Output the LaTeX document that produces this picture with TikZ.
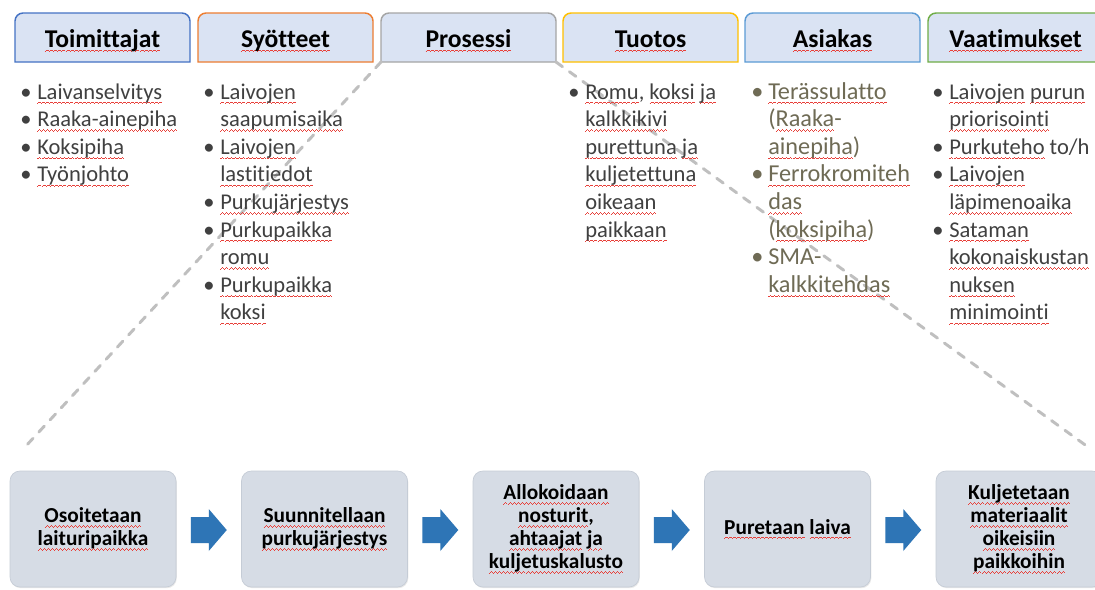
\documentclass[tikz,border=0pt]{standalone}
\usepackage{fontspec}
\setmainfont{Carlito}[Ligatures={NoCommon}]
\usetikzlibrary{calc,shadows}

% palette
\definecolor{hdrfill}{HTML}{DAE3F3}
\definecolor{boxfill}{HTML}{D6DCE5}
\definecolor{boxedge}{HTML}{C5CCD6}
\definecolor{txtgray}{HTML}{404040}
\definecolor{custtext}{HTML}{6F6B55}
\definecolor{dashgray}{HTML}{BFBFBF}
\definecolor{arrowblue}{HTML}{2E75B6}
\definecolor{spellred}{HTML}{E8403A}
\definecolor{cBlue}{HTML}{4472C4}
\definecolor{cOrange}{HTML}{ED7D31}
\definecolor{cGray}{HTML}{A5A5A5}
\definecolor{cGold}{HTML}{FFC000}
\definecolor{cLBlue}{HTML}{5B9BD5}
\definecolor{cGreen}{HTML}{70AD47}

% red wavy underline of the spell checker, built from tiny rules
\newcommand\wv{\hbox{\rule[-3.7pt]{0.75pt}{0.6pt}\rule[-3.2pt]{0.75pt}{0.6pt}%
  \rule[-2.7pt]{0.75pt}{0.6pt}\rule[-3.2pt]{0.75pt}{0.6pt}}}
\newcommand\sq[1]{\setbox0\hbox{#1}%
  \rlap{\hbox to\wd0{\color{spellred}\xleaders\wv\hfill}}\box0\relax}

% bullet list helpers
\newcommand\bl{\makebox[12.75pt][l]{•}}
\newcommand\ind{\hspace*{12.75pt}}
\newcommand\stack[1]{\vtop{\baselineskip=20.7pt\lineskiplimit=-30pt\lineskip=0pt #1}}

% header tab with rounded top corners: name, frame colour, left x, label
\newcommand\hdr[4]{%
  \draw[hdrframe, draw=#2] (#3,-62) -- (#3,-21)
    arc[start angle=180,end angle=90,radius=8] -- ({#3+167},-13)
    arc[start angle=90,end angle=0,radius=8] -- ({#3+175},-62) -- cycle;
  \coordinate (#1-sw) at (#3,-62);
  \coordinate (#1-se) at ({#3+175},-62);
  \node[hdrtext] (#1) at ({#3+87.5},-47) {\sq{#4}};
}

% block arrow centred on a coordinate
\newcommand\blockarrow[1]{%
  \fill[arrowblue, shift={(#1)}] (-18,13) -- (0,13) -- (0,21) -- (18,0)
    -- (0,-21) -- (0,-13) -- (-18,-13) -- cycle;
}

\begin{document}
\begin{tikzpicture}[x=0.75pt,y=0.75pt,
  hdrframe/.style={fill=hdrfill, line width=1.1pt},
  hdrtext/.style={anchor=base, inner sep=0pt, text=black,
    font=\bfseries\fontsize{19.2}{22}\selectfont},
  lst/.style={anchor=base west, inner sep=0pt, text=txtgray,
    font=\fontsize{16.9}{20.7}\selectfont},
  zoomline/.style={draw=dashgray, line width=2.2pt, line cap=round,
    dash pattern=on 6pt off 6.4pt},
  stepbox/.style={rounded corners=7.5pt, fill=boxfill, draw=boxedge,
    line width=0.5pt, minimum width=124.5pt, minimum height=87pt,
    inner sep=2pt, align=center, text=black,
    font=\bfseries\fontsize{16}{17.25}\selectfont,
    drop shadow={opacity=0.18, shadow xshift=0.6pt, shadow yshift=-0.9pt}}
]
\clip (0,0) rectangle (1095,-589);
\fill[white] (0,0) rectangle (1095,-589);

% header row
\hdr{toim}{cBlue}{15}{Toimittajat}
\hdr{syot}{cOrange}{198}{Syötteet}
\hdr{pros}{cGray}{381}{Prosessi}
\hdr{tuot}{cGold}{563}{Tuotos}
\hdr{asia}{cLBlue}{745}{Asiakas}
\hdr{vaat}{cGreen}{928}{Vaatimukset}

% zoom lines from the process tab down to the process steps
\coordinate (endL) at (25,-447);
\coordinate (endR) at (1088,-447);
\draw[zoomline] (pros-sw) -- (endL);
\draw[zoomline] (pros-se) -- (endR);

% bullet columns
\node[lst] (c1) at (20,-99) {\stack{%
  \hbox{\bl\sq{Laivanselvitys}}
  \hbox{\bl\sq{Raaka-ainepiha}}
  \hbox{\bl\sq{Koksipiha}}
  \hbox{\bl\sq{Työnjohto}}}};

\node[lst] (c2) at (203,-99) {\stack{%
  \hbox{\bl\sq{Laivojen}}
  \hbox{\ind\sq{saapumisaika}}
  \hbox{\bl\sq{Laivojen}}
  \hbox{\ind\sq{lastitiedot}}
  \hbox{\bl\sq{Purkujärjestys}}
  \hbox{\bl\sq{Purkupaikka}}
  \hbox{\ind\sq{romu}}
  \hbox{\bl\sq{Purkupaikka}}
  \hbox{\ind\sq{koksi}}}};

\node[lst] (c4) at (568,-99) {\stack{%
  \hbox{\bl\sq{Romu}, \sq{koksi} \sq{ja}}
  \hbox{\ind\sq{kalkkikivi}}
  \hbox{\ind\sq{purettuna} \sq{ja}}
  \hbox{\ind\sq{kuljetettuna}}
  \hbox{\ind\sq{oikeaan}}
  \hbox{\ind\sq{paikkaan}}}};

\node[lst, text=custtext, font=\fontsize{18.2}{20.7}\selectfont] (c5) at (751,-99) {\stack{%
  \hbox{\bl\sq{Terässulatto}}
  \hbox{\ind(\sq{Raaka}-}
  \hbox{\ind\sq{ainepiha})}
  \hbox{\bl\sq{Ferrokromiteh}}
  \hbox{\ind\sq{das}}
  \hbox{\ind(\sq{koksipiha})}
  \hbox{\bl SMA-}
  \hbox{\ind\sq{kalkkitehdas}}}};

\node[lst] (c6) at (932,-99) {\stack{%
  \hbox{\bl\sq{Laivojen} \sq{purun}}
  \hbox{\ind\sq{priorisointi}}
  \hbox{\bl\sq{Purkuteho} to/h}
  \hbox{\bl\sq{Laivojen}}
  \hbox{\ind\sq{läpimenoaika}}
  \hbox{\bl\sq{Sataman}}
  \hbox{\ind\sq{kokonaiskustan}}
  \hbox{\ind\sq{nuksen}}
  \hbox{\ind\sq{minimointi}}}};

% process steps
\node[stepbox] (b1) at (93,-529)   {\sq{Osoitetaan}\\\sq{laituripaikka}};
\node[stepbox] (b2) at (324.5,-529) {\sq{Suunnitellaan}\\\sq{purkujärjestys}};
\node[stepbox] (b3) at (556,-529)  {\sq{Allokoidaan}\\\sq{nosturit},\\\sq{ahtaajat} \sq{ja}\\\sq{kuljetuskalusto}};
\node[stepbox] (b4) at (787.5,-529) {\sq{Puretaan} \sq{laiva}};
\node[stepbox] (b5) at (1019,-529) {\sq{Kuljetetaan}\\\sq{materiaalit}\\\sq{oikeisiin}\\\sq{paikkoihin}};

% arrows between the steps
\coordinate (a1) at ($(b1.east)!0.5!(b2.west)+(0,-1)$);
\coordinate (a2) at ($(b2.east)!0.5!(b3.west)+(0,-1)$);
\coordinate (a3) at ($(b3.east)!0.5!(b4.west)+(0,-1)$);
\coordinate (a4) at ($(b4.east)!0.5!(b5.west)+(0,-1)$);
\blockarrow{a1}
\blockarrow{a2}
\blockarrow{a3}
\blockarrow{a4}
\end{tikzpicture}
\end{document}
